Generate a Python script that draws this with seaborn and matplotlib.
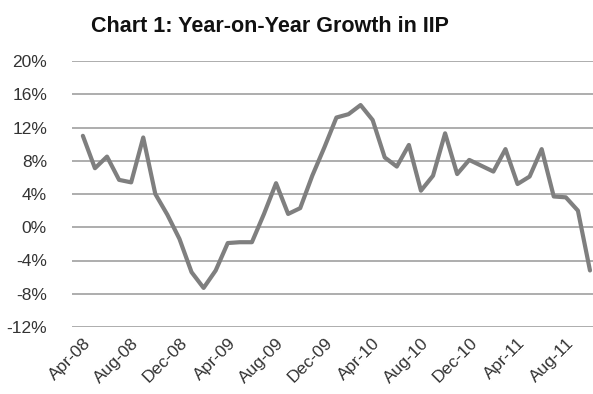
import matplotlib
matplotlib.use("Agg")
import matplotlib.pyplot as plt
import seaborn as sns
import pandas as pd
import numpy as np

months = ["Apr-08","May-08","Jun-08","Jul-08","Aug-08","Sep-08","Oct-08","Nov-08","Dec-08",
          "Jan-09","Feb-09","Mar-09","Apr-09","May-09","Jun-09","Jul-09","Aug-09","Sep-09",
          "Oct-09","Nov-09","Dec-09","Jan-10","Feb-10","Mar-10","Apr-10","May-10","Jun-10",
          "Jul-10","Aug-10","Sep-10","Oct-10","Nov-10","Dec-10","Jan-11","Feb-11","Mar-11",
          "Apr-11","May-11","Jun-11","Jul-11","Aug-11","Sep-11","Oct-11"]
growth = [11.0, 7.1, 8.5, 5.7, 5.4, 10.8, 4.0, 1.5, -1.4,
          -5.4, -7.3, -5.2, -1.9, -1.8, -1.8, 1.6, 5.3, 1.6,
          2.3, 6.2, 9.6, 13.2, 13.6, 14.7, 12.9, 8.4, 7.3,
          9.9, 4.4, 6.2, 11.3, 6.4, 8.1, 7.4, 6.7, 9.4,
          5.2, 6.1, 9.4, 3.7, 3.6, 2.0, -5.2]
yticks = [-12, -8, -4, 0, 4, 8, 12, 16, 20]
title = "Chart 1: Year-on-Year Growth in IIP"

df = pd.DataFrame({"idx": np.arange(len(months)), "growth": growth})

sns.set_style("white")
plt.rcParams['font.family'] = ['Liberation Sans', 'DejaVu Sans']

fig = plt.figure(figsize=(5.93, 3.94), dpi=100)
ax = fig.add_axes([72/593, 1 - 327/394, (593 - 72)/593, (327 - 61)/394])

for t in yticks:
    ax.axhline(t, color="#a0a0a0", lw=1.2, zorder=1)

sns.lineplot(data=df, x="idx", y="growth", ax=ax, color="#7f7f7f", lw=3, zorder=3)

ax.set_xlim(-0.9, 42.25)
ax.set_ylim(-12, 20)
ax.set_yticks(yticks)
ax.set_yticklabels([f"{t}%" for t in yticks], fontsize=12.5, color="#333333")
tick_idx = list(range(0, len(months), 4))
ax.set_xticks(tick_idx)
ax.set_xticklabels([months[i] for i in tick_idx], rotation=45, ha="right",
                   rotation_mode="anchor", fontsize=12.5, color="#333333")
ax.tick_params(axis="both", length=0)
ax.tick_params(axis="y", pad=18)
ax.tick_params(axis="x", pad=6)
ax.set_xlabel("")
ax.set_ylabel("")
for s in ax.spines.values():
    s.set_visible(False)

fig.text(270/593, 1 - 27/394, title, ha="center", va="center",
         fontsize=15.5, fontweight="bold", color="#111111")

fig.savefig("out.png", dpi=100, facecolor="white")
